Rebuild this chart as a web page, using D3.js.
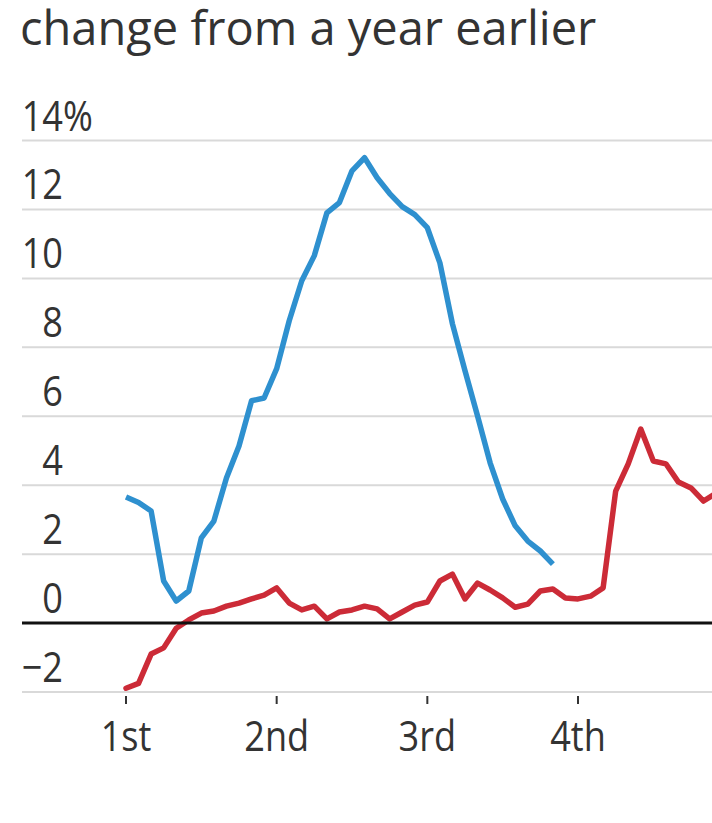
<!DOCTYPE html>
<html>
<head>
<meta charset="utf-8">
<script src="https://cdn.jsdelivr.net/npm/d3@7"></script>
<style>
  body { margin: 0; background: #fff; }
  svg { display: block; }
</style>
</head>
<body>
<svg id="chart" width="712" height="823"></svg>
<script>
// Subtitle text
const subtitle = "change from a year earlier";

// Y axis ticks (percent) and x axis ticks (months since start)
const yTicks = [-2, 0, 2, 4, 6, 8, 10, 12, 14];
const xTickMonths = [0, 12, 24, 36];
const xTickLabels = ["1st", "2nd", "3rd", "4th"];

// Monthly year-over-year change, blue series
const blueValues = [
  3.66, 3.5, 3.25, 1.22, 0.64, 0.93, 2.47, 2.96, 4.21, 5.14,
  6.45, 6.53, 7.38, 8.77, 9.93, 10.66, 11.9, 12.2, 13.12, 13.5,
  12.92, 12.46, 12.08, 11.85, 11.47, 10.45, 8.68, 7.32, 6.01, 4.65,
  3.6, 2.82, 2.38, 2.09, 1.71
];

// Monthly year-over-year change, red series
const redValues = [
  -1.89, -1.75, -0.9, -0.72, -0.15, 0.09, 0.29, 0.35, 0.49, 0.58,
  0.7, 0.81, 1.02, 0.58, 0.38, 0.49, 0.12, 0.32, 0.38, 0.49,
  0.41, 0.12, 0.32, 0.52, 0.61, 1.22, 1.42, 0.7, 1.16, 0.96,
  0.73, 0.46, 0.55, 0.93, 0.99, 0.73, 0.7, 0.78, 1.02, 3.83,
  4.62, 5.63, 4.7, 4.62, 4.09, 3.92, 3.54, 3.77
];

const svg = d3.select("#chart");
const W = 712;

const x = d3.scaleLinear().domain([0, 36]).range([126, 578]);
const y = d3.scaleLinear().domain([-2, 14]).range([692, 140.5]);

const font = "'Open Sans', 'Noto Sans', sans-serif";
const textColor = "#333";
const labelSquash = 0.86;

// Subtitle
svg.append("text")
  .attr("x", 20)
  .attr("y", 45)
  .attr("font-family", font)
  .attr("font-size", 47)
  .attr("fill", textColor)
  .text(subtitle);

// Horizontal gridlines
svg.append("g")
  .selectAll("line")
  .data(yTicks.filter(d => d !== 0))
  .join("line")
  .attr("x1", 22).attr("x2", W)
  .attr("y1", d => y(d)).attr("y2", d => y(d))
  .attr("stroke", "#d9d9d9")
  .attr("stroke-width", 2);

// Y labels, right-aligned numbers with a hanging percent sign on the top tick
const yLab = svg.append("g")
  .selectAll("g")
  .data(yTicks)
  .join("g")
  .attr("transform", d => `translate(63,${y(d) - 10}) scale(${labelSquash},1)`);

yLab.append("text")
  .attr("text-anchor", "end")
  .attr("font-family", font)
  .attr("font-size", 42)
  .attr("fill", textColor)
  .text(d => d < 0 ? "\u2212" + Math.abs(d) : String(d));

yLab.filter(d => d === d3.max(yTicks))
  .append("text")
  .attr("text-anchor", "start")
  .attr("font-family", font)
  .attr("font-size", 42)
  .attr("fill", textColor)
  .text("%");

// X tick marks and labels
const xAxis = svg.append("g");
xAxis.selectAll("line")
  .data(xTickMonths)
  .join("line")
  .attr("x1", d => x(d)).attr("x2", d => x(d))
  .attr("y1", 696).attr("y2", 704)
  .attr("stroke", "#333")
  .attr("stroke-width", 2);

xAxis.selectAll("g")
  .data(xTickMonths)
  .join("g")
  .attr("transform", d => `translate(${x(d)},751) scale(${labelSquash},1)`)
  .append("text")
  .attr("text-anchor", "middle")
  .attr("font-family", font)
  .attr("font-size", 42)
  .attr("fill", textColor)
  .text((d, i) => xTickLabels[i]);

// Series lines
const line = d3.line()
  .x((d, i) => x(i))
  .y(d => y(d));

svg.append("path")
  .datum(redValues)
  .attr("fill", "none")
  .attr("stroke", "#cc2b37")
  .attr("stroke-width", 5.5)
  .attr("stroke-linejoin", "round")
  .attr("stroke-linecap", "round")
  .attr("d", line);

svg.append("path")
  .datum(blueValues)
  .attr("fill", "none")
  .attr("stroke", "#2e90cf")
  .attr("stroke-width", 5.5)
  .attr("stroke-linejoin", "round")
  .attr("stroke-linecap", "butt")
  .attr("d", line);

// Zero baseline
svg.append("line")
  .attr("x1", 22).attr("x2", W)
  .attr("y1", y(0)).attr("y2", y(0))
  .attr("stroke", "#111")
  .attr("stroke-width", 3);
</script>
</body>
</html>
